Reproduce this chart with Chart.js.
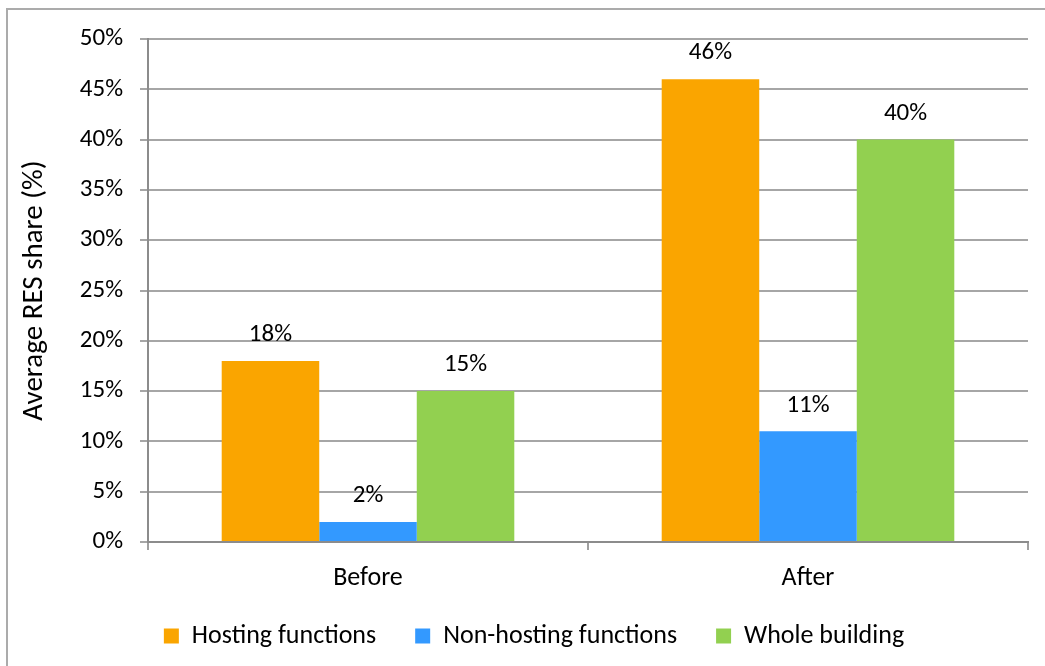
<!DOCTYPE html>
<html>
<head>
<meta charset="utf-8">
<script src="https://cdn.jsdelivr.net/npm/chart.js@4/dist/chart.umd.min.js"></script>
<style>
  html, body { margin: 0; padding: 0; background: #fff; }
  #wrap { position: relative; width: 1045px; height: 666px; overflow: hidden; }
  #frame { position: absolute; left: 6px; top: 8px; width: 1100px; height: 700px; border: 2px solid #ababab; box-sizing: border-box; }
  canvas { position: absolute; left: 0; top: 0; }
</style>
</head>
<body>
<div id="wrap">
  <div id="frame"></div>
  <canvas id="chart" width="1045" height="666"></canvas>
</div>
<script>
// Data
const categories = ["Before", "After"];
const hosting = [18, 46];
const nonHosting = [2, 11];
const wholeBuilding = [15, 40];
const seriesNames = ["Hosting functions", "Non-hosting functions", "Whole building"];
const yTicks = [0, 5, 10, 15, 20, 25, 30, 35, 40, 45, 50];

const fontFamily = "Carlito, Lato, 'Open Sans', sans-serif";

// Draw the value labels above each bar
const valueLabels = {
    id: "valueLabels",
    afterDatasetsDraw(chart) {
        const ctx = chart.ctx;
        ctx.save();
        ctx.font = "25px " + fontFamily;
        ctx.fillStyle = "#000";
        ctx.textAlign = "center";
        ctx.textBaseline = "middle";
        chart.data.datasets.forEach(function (ds, i) {
            chart.getDatasetMeta(i).data.forEach(function (bar, j) {
                ctx.fillText(ds.data[j] + "%", bar.x, bar.y - 26);
            });
        });
        ctx.restore();
    }
};

// Fix the legend block height and nudge its position
const legendHeight = {
    id: "legendHeight",
    beforeUpdate(chart) {
        const legend = chart.legend;
        if (legend && !legend._patched) {
            const origFit = legend.fit;
            legend.fit = function () {
                origFit.call(this);
                this.height = 66;
            };
            legend._patched = true;
        }
    },
    afterLayout(chart) {
        const legend = chart.legend;
        if (legend) {
            legend.top -= 16;
            legend.bottom -= 16;
            legend.left += 20;
            legend.right += 20;
        }
    }
};

const ctx = document.getElementById("chart").getContext("2d");
new Chart(ctx, {
    type: "bar",
    data: {
        labels: categories,
        datasets: [
            { label: seriesNames[0], data: hosting, backgroundColor: "#FAA500" },
            { label: seriesNames[1], data: nonHosting, backgroundColor: "#3399FF" },
            { label: seriesNames[2], data: wholeBuilding, backgroundColor: "#92D050" }
        ]
    },
    options: {
        responsive: false,
        animation: false,
        layout: { padding: { top: 39, right: 17, left: 0, bottom: 0 } },
        datasets: {
            bar: { barPercentage: 1, categoryPercentage: 0.665 }
        },
        plugins: {
            legend: {
                position: "bottom",
                labels: {
                    boxWidth: 15,
                    boxHeight: 15,
                    padding: 39,
                    color: "#000",
                    font: { family: fontFamily, size: 26 }
                }
            },
            tooltip: { enabled: false }
        },
        scales: {
            x: {
                afterFit: function (scale) { scale.height = 58; },
                grid: {
                    offset: true,
                    drawOnChartArea: false,
                    drawTicks: true,
                    tickLength: 8,
                    color: "#a0a0a0",
                    lineWidth: 2
                },
                border: { color: "#8c8c8c", width: 2 },
                ticks: {
                    color: "#000",
                    padding: 13,
                    font: { family: fontFamily, size: 26 }
                }
            },
            y: {
                min: 0,
                max: 50,
                afterFit: function (scale) { scale.width = 148; },
                afterBuildTicks: function (scale) {
                    scale.ticks = yTicks.map(function (v) { return { value: v }; });
                },
                grid: {
                    color: "#a6a6a6",
                    lineWidth: 2,
                    tickLength: 8
                },
                border: { color: "#8c8c8c", width: 2 },
                ticks: {
                    color: "#000",
                    padding: 17,
                    font: { family: fontFamily, size: 25 },
                    callback: function (v) { return v + "%"; }
                },
                title: {
                    display: true,
                    text: "Average RES share (%)",
                    color: "#000",
                    padding: { top: 17, bottom: 10 },
                    font: { family: fontFamily, size: 29 }
                }
            }
        }
    },
    plugins: [valueLabels, legendHeight]
});
</script>
</body>
</html>
